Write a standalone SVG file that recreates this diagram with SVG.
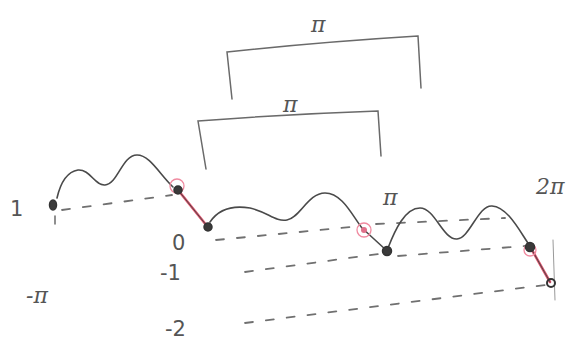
<svg xmlns="http://www.w3.org/2000/svg" width="579" height="346" viewBox="0 0 579 346">
<style>
.pen{fill:none;stroke:#4a4a4a;stroke-width:1.6;stroke-linecap:round;stroke-linejoin:round}
.br{fill:none;stroke:#6a6a6a;stroke-width:1.5;stroke-linecap:round}
.dash{fill:none;stroke:#707070;stroke-width:1.8;stroke-dasharray:8 13;stroke-linecap:round}
.red{stroke:#e0506a;stroke-width:2.6;stroke-linecap:round}
.pink{fill:none;stroke:#f08aa0;stroke-width:1.3}
.dot{fill:#3a3a3a;stroke:#333;stroke-width:1.5}
.lbl{font-family:"DejaVu Serif",serif;font-style:italic;font-size:22px;fill:#555}
.num{font-family:"DejaVu Sans",sans-serif;font-size:21px;fill:#555}
</style>
<rect width="579" height="346" fill="#fff"/>
<g id="brackets">
<path class="br" d="M232,99 L227,52 Q320,42 418,36 L421,88"/>
<path class="br" d="M206,169 L198,121 Q290,114 378,111 L381,156"/>
</g>
<g id="levels">
<path class="dash" d="M62,210 L172,195"/>
<path class="dash" d="M216,240 L362,226"/>
<path class="dash" d="M376,224 L505,218"/>
<path class="dash" d="M245,272 L386,253"/>
<path class="dash" d="M398,256 L525,246"/>
<path class="dash" d="M245,323 L545,285"/>
<path class="br" d="M55,216 L55,224"/>
<path class="br" d="M553,240 L555,300" style="stroke:#999;stroke-width:1"/>
</g>
<g id="connectors">
<path class="pen" d="M57,198 C60,185 66,172 78,170 C90,169 95,186 105,185 C118,184 122,155 137,155 C150,155 160,175 173,187"/>
<path class="pen" d="M210,222 C218,210 232,205 250,208 C268,212 275,222 287,220 C300,218 308,193 325,193 C342,193 352,215 362,228 L386,250"/>
<path class="pen" d="M388,248 C395,230 405,208 420,208 C435,208 443,240 457,239 C470,238 478,205 492,206 C508,207 520,232 530,246"/>
<path class="red" d="M178,190 L207,226"/>
<path class="red" d="M532,250 L550,282"/>
<path class="pen" d="M178,190 L207,226 M532,250 L550,282" style="stroke-width:1"/>
</g>
<g id="n1"><ellipse class="dot" cx="53" cy="205" rx="3.5" ry="5"/></g>
<g id="n2"><circle class="pink" cx="177" cy="186" r="7"/><circle class="dot" cx="178" cy="190" r="4"/></g>
<g id="n3"><circle class="dot" cx="208" cy="227" r="4"/></g>
<g id="n4"><circle class="pink" cx="364" cy="230" r="7"/><circle cx="364" cy="230" r="3" fill="#e0708a"/></g>
<g id="n5"><circle class="dot" cx="387" cy="251" r="4.5"/></g>
<g id="n6"><circle class="pink" cx="530" cy="250" r="6"/><circle class="dot" cx="530" cy="247" r="4.5"/></g>
<g id="n7"><circle cx="551" cy="283" r="4" fill="none" stroke="#333" stroke-width="2"/></g>
<g id="labels">
<text class="lbl" x="311" y="32">π</text>
<text class="lbl" x="283" y="112">π</text>
<text class="lbl" x="383" y="205">π</text>
<text class="lbl" x="536" y="194">2π</text>
<text class="lbl" x="26" y="303">-π</text>
<text class="num" x="10" y="216">1</text>
<text class="num" x="172" y="250">0</text>
<text class="num" x="160" y="280">-1</text>
<text class="num" x="165" y="336">-2</text>
</g>
</svg>
